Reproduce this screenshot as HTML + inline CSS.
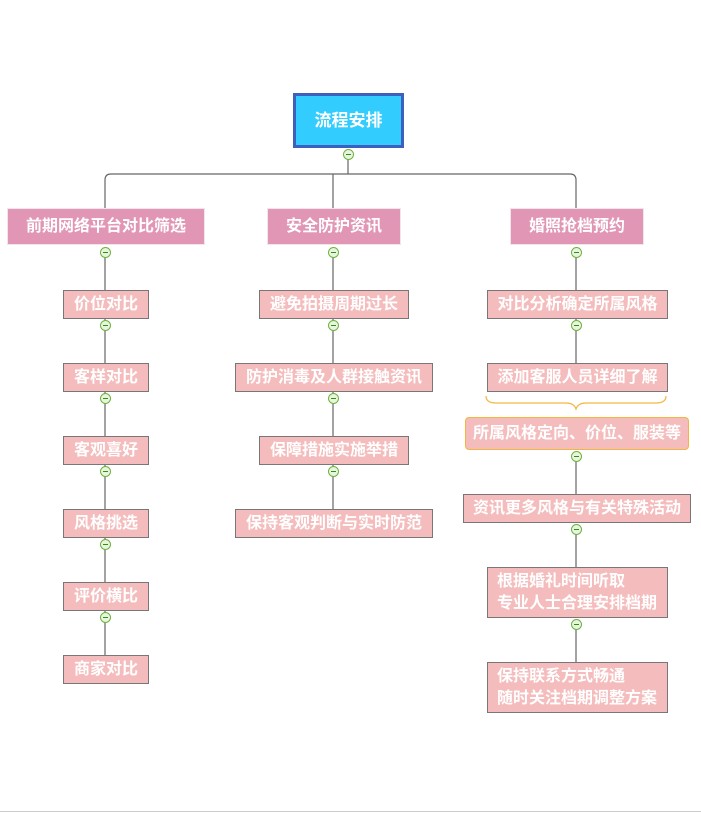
<!DOCTYPE html>
<html><head><meta charset="utf-8"><style>
body{margin:0;width:701px;height:813px;background:#fff;position:relative;overflow:hidden;font-family:"Liberation Sans","Noto Sans CJK SC",sans-serif}
.b{position:absolute;box-sizing:border-box;color:#fff;font-weight:bold;font-size:16px;display:flex;align-items:center;justify-content:center;text-align:center;line-height:22px;white-space:nowrap}
.c{background:#f4bcbc;border:1px solid #777}
.l1{background:#e096b4;border:1px solid #f0e6ea}
.o{position:absolute;width:11px;height:11px;border:1px solid #6db33f;border-radius:50%;background:#e8f5de;box-sizing:border-box}
.o:after{content:"";position:absolute;left:2px;right:2px;top:4px;height:1px;background:#3a8a1a}
</style></head><body>
<svg width="701" height="813" style="position:absolute;left:0;top:0">
<g stroke="#666" stroke-width="1.2" fill="none">
<path d="M348 154V174"/>
<path d="M105 208V180Q105 174 111 174H570Q576 174 576 180V208"/>
<path d="M333 174V208"/>
<path d="M105 252V683"/>
<path d="M333 252V509"/>
<path d="M576 252V363M576 456V494M576 529V567M576 624V662"/>
</g>
<path d="M486 396Q486 403 496 403H566Q574 403 576 409Q578 403 586 403H656Q666 403 666 396" stroke="#f2b640" stroke-width="1.2" fill="none"/>
<line x1="0" y1="811.5" x2="701" y2="811.5" stroke="#ccc"/>
</svg>
<div class="b" style="left:293px;top:93px;width:111px;height:55px;background:#33ccff;border:3px solid #3f5fbf;font-size:17px">流程安排</div>
<div class="o" style="left:343px;top:149px"></div>
<div class="b l1" style="left:7px;top:208px;width:198px;height:37px">前期网络平台对比筛选</div>
<div class="b l1" style="left:267px;top:208px;width:134px;height:37px">安全防护资讯</div>
<div class="b l1" style="left:510px;top:208px;width:134px;height:37px">婚照抢档预约</div>
<div class="o" style="left:100px;top:247px"></div>
<div class="o" style="left:328px;top:247px"></div>
<div class="o" style="left:571px;top:247px"></div>

<div class="b c" style="left:63px;top:290px;width:86px;height:29px">价位对比</div>
<div class="b c" style="left:63px;top:363px;width:86px;height:29px">客样对比</div>
<div class="b c" style="left:63px;top:436px;width:86px;height:29px">客观喜好</div>
<div class="b c" style="left:63px;top:509px;width:86px;height:29px">风格挑选</div>
<div class="b c" style="left:63px;top:582px;width:86px;height:29px">评价横比</div>
<div class="b c" style="left:63px;top:655px;width:86px;height:29px">商家对比</div>
<div class="o" style="left:100px;top:320px"></div>
<div class="o" style="left:100px;top:393px"></div>
<div class="o" style="left:100px;top:466px"></div>
<div class="o" style="left:100px;top:539px"></div>
<div class="o" style="left:100px;top:612px"></div>

<div class="b c" style="left:259px;top:290px;width:150px;height:29px">避免拍摄周期过长</div>
<div class="b c" style="left:235px;top:363px;width:198px;height:29px">防护消毒及人群接触资讯</div>
<div class="b c" style="left:259px;top:436px;width:150px;height:29px">保障措施实施举措</div>
<div class="b c" style="left:235px;top:509px;width:198px;height:29px">保持客观判断与实时防范</div>
<div class="o" style="left:328px;top:320px"></div>
<div class="o" style="left:328px;top:393px"></div>
<div class="o" style="left:328px;top:466px"></div>

<div class="b c" style="left:487px;top:290px;width:181px;height:29px">对比分析确定所属风格</div>
<div class="b c" style="left:487px;top:363px;width:181px;height:29px">添加客服人员详细了解</div>
<div class="b" style="left:465px;top:417px;width:224px;height:33px;background:#f4bcbc;border:1px solid #f2b640;border-radius:4px">所属风格定向、价位、服装等</div>
<div class="b c" style="left:463px;top:494px;width:228px;height:29px">资讯更多风格与有关特殊活动</div>
<div class="b c" style="left:487px;top:567px;width:181px;height:51px;justify-content:flex-start;padding-left:9px;text-align:left">根据婚礼时间听取<br>专业人士合理安排档期</div>
<div class="b c" style="left:487px;top:662px;width:181px;height:51px;justify-content:flex-start;padding-left:9px;text-align:left">保持联系方式畅通<br>随时关注档期调整方案</div>
<div class="o" style="left:571px;top:320px"></div>
<div class="o" style="left:571px;top:451px"></div>
<div class="o" style="left:571px;top:524px"></div>
<div class="o" style="left:571px;top:619px"></div>
</body></html>
